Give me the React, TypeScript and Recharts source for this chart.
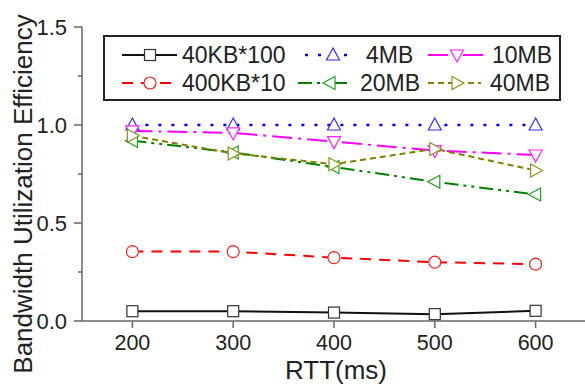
import { LineChart, Line, XAxis, YAxis, Legend } from 'recharts';

const FONT = '"Liberation Sans", Arial, sans-serif';
const AXIS = '#666666';

// RTT in ms
const rtt = [200, 300, 400, 500, 600];

// bandwidth utilization efficiency per flow setup
const kb40x100 = [0.05, 0.05, 0.043, 0.035, 0.052];
const kb400x10 = [0.354, 0.354, 0.323, 0.3, 0.29];
const mb4 = [1.0, 1.0, 1.0, 1.0, 1.0];
const mb10 = [0.97, 0.96, 0.915, 0.87, 0.847];
const mb20 = [0.92, 0.86, 0.786, 0.71, 0.645];
const mb40 = [0.945, 0.855, 0.8, 0.878, 0.768];

const xTicks = [200, 300, 400, 500, 600];
const yTicks = [0, 0.25, 0.5, 0.75, 1, 1.25, 1.5];

type Marker = 'square' | 'circle' | 'up' | 'down' | 'left' | 'right';

interface Series {
  key: string;
  name: string;
  values: number[];
  color: string;
  markColor: string;
  dash?: string;
  width: number;
  marker: Marker;
}

const series: Series[] = [
  { key: 'kb40x100', name: '40KB*100', values: kb40x100, color: '#111111', markColor: '#333333', width: 2, marker: 'square' },
  { key: 'kb400x10', name: '400KB*10', values: kb400x10, color: '#ff0000', markColor: '#ff2020', dash: '11 8', width: 2, marker: 'circle' },
  { key: 'mb4', name: '4MB', values: mb4, color: '#0000ff', markColor: '#3030ff', dash: '3 10', width: 2.5, marker: 'up' },
  { key: 'mb10', name: '10MB', values: mb10, color: '#ff00ff', markColor: '#ff20ff', dash: '20 6 3 6', width: 2, marker: 'down' },
  { key: 'mb20', name: '20MB', values: mb20, color: '#008000', markColor: '#20a020', dash: '14 5 3 5 3 5', width: 2, marker: 'left' },
  { key: 'mb40', name: '40MB', values: mb40, color: '#808000', markColor: '#909020', dash: '6 4', width: 2, marker: 'right' }
];

const data = rtt.map((r, i) => {
  const row: Record<string, number> = { rtt: r };
  series.forEach((s) => {
    row[s.key] = s.values[i];
  });
  return row;
});

function MarkerShape({ kind, cx, cy, color }: { kind: Marker; cx: number; cy: number; color: string }) {
  const common = { fill: '#ffffff', stroke: color, strokeWidth: 1.2 };
  switch (kind) {
    case 'square':
      return <rect x={cx - 5.5} y={cy - 5.5} width={11} height={11} {...common} />;
    case 'circle':
      return <circle cx={cx} cy={cy} r={6} {...common} />;
    case 'up':
      return <polygon points={`${cx},${cy - 7} ${cx - 6.5},${cy + 5} ${cx + 6.5},${cy + 5}`} {...common} />;
    case 'down':
      return <polygon points={`${cx},${cy + 7} ${cx - 6.5},${cy - 5} ${cx + 6.5},${cy - 5}`} {...common} />;
    case 'left':
      return <polygon points={`${cx - 7},${cy} ${cx + 5},${cy - 6.5} ${cx + 5},${cy + 6.5}`} {...common} />;
    default:
      return <polygon points={`${cx + 7},${cy} ${cx - 5},${cy - 6.5} ${cx - 5},${cy + 6.5}`} {...common} />;
  }
}

// legend slots, relative to the legend box, in series order
const legendSlots = [
  { x1: 19, x2: 74, mx: 47, tx: 79, y: 20 },
  { x1: 19, x2: 74, mx: 47, tx: 79, y: 48 },
  { x1: 202, x2: 250, mx: 230, tx: 263, y: 20 },
  { x1: 325, x2: 382, mx: 354, tx: 389, y: 20 },
  { x1: 195, x2: 245, mx: 227, tx: 257, y: 48 },
  { x1: 325, x2: 378, mx: 354, tx: 387, y: 48 }
];

function LegendBox() {
  return (
    <svg width={458} height={66}>
      <rect x={1} y={1} width={456} height={64} fill="#ffffff" stroke="#222" strokeWidth={2} />
      {series.map((s, i) => {
        const p = legendSlots[i];
        return (
          <g key={s.key}>
            <line x1={p.x1} x2={p.x2} y1={p.y} y2={p.y} stroke={s.color} strokeWidth={s.width} strokeDasharray={s.dash} />
            <MarkerShape kind={s.marker} cx={p.mx} cy={p.y} color={s.markColor} />
            <text x={p.tx} y={p.y + 8} fontSize={23} fontFamily={FONT} fill="#222">
              {s.name}
            </text>
          </g>
        );
      })}
    </svg>
  );
}

function XTick(props: any) {
  const { x, y, payload } = props;
  return (
    <text x={x} y={y + 22} textAnchor="middle" fontSize={21.5} fontFamily={FONT} fill="#222">
      {payload.value}
    </text>
  );
}

function LeftTick(props: any) {
  const { x, y, payload } = props;
  const major = Math.abs(payload.value * 2 - Math.round(payload.value * 2)) < 1e-6;
  return (
    <g>
      <line x1={x - (major ? 8 : 4)} x2={x} y1={y} y2={y} stroke={AXIS} strokeWidth={1.5} />
      {major && (
        <text x={x - 15} y={y + 8} textAnchor="end" fontSize={22} fontFamily={FONT} fill="#222">
          {Number(payload.value).toFixed(1)}
        </text>
      )}
    </g>
  );
}

function RightTick(props: any) {
  const { x, y, payload } = props;
  const major = Math.abs(payload.value * 2 - Math.round(payload.value * 2)) < 1e-6;
  return <line x1={x - (major ? 7 : 4)} x2={x} y1={y} y2={y} stroke={AXIS} strokeWidth={1.5} />;
}

export default function App() {
  return (
    <div style={{ position: 'absolute', left: 0, top: 0, width: 585, height: 385, overflow: 'hidden', background: '#fff' }}>
      <LineChart width={600} height={385} data={data} margin={{ top: 27, right: 14, bottom: 0, left: 0 }}>
        <XAxis
          dataKey="rtt"
          type="number"
          domain={[150, 650]}
          ticks={xTicks}
          interval={0}
          allowDataOverflow
          height={64}
          tickSize={7}
          tickMargin={0}
          axisLine={{ stroke: AXIS, strokeWidth: 1.5 }}
          tickLine={{ stroke: AXIS, strokeWidth: 1.5 }}
          tick={<XTick />}
          label={{
            content: () => (
              <text x={336} y={379} textAnchor="middle" fontSize={26} fontFamily={FONT} fill="#222">
                RTT(ms)
              </text>
            )
          }}
        />
        <XAxis
          xAxisId="top"
          orientation="top"
          mirror
          type="number"
          domain={[150, 650]}
          ticks={xTicks}
          interval={0}
          height={0}
          tickSize={7}
          axisLine={{ stroke: AXIS, strokeWidth: 1.5 }}
          tickLine={{ stroke: AXIS, strokeWidth: 1.5 }}
          tick={() => <g />}
        />
        <YAxis
          yAxisId="left"
          type="number"
          domain={[0, 1.5]}
          ticks={yTicks}
          interval={0}
          allowDataOverflow
          width={82}
          tickSize={0}
          tickMargin={0}
          tickLine={false}
          axisLine={{ stroke: AXIS, strokeWidth: 1.5 }}
          tick={<LeftTick />}
          label={{
            content: () => (
              <text
                x={32}
                y={194}
                transform="rotate(-90 32 194)"
                textAnchor="middle"
                fontSize={26}
                fontFamily={FONT}
                fill="#222"
              >
                Bandwidth Utilization Efficiency
              </text>
            )
          }}
        />
        <YAxis
          yAxisId="right"
          orientation="right"
          mirror
          type="number"
          domain={[0, 1.5]}
          ticks={yTicks}
          interval={0}
          width={0}
          tickSize={0}
          tickMargin={0}
          tickLine={false}
          axisLine={{ stroke: AXIS, strokeWidth: 1.5 }}
          tick={<RightTick />}
        />
        <Legend
          layout="vertical"
          align="center"
          verticalAlign="middle"
          content={() => <LegendBox />}
          wrapperStyle={{ left: 103, top: 35, width: 458, height: 66 }}
        />
        {series.map((s) => (
          <Line
            key={s.key}
            yAxisId="left"
            type="linear"
            dataKey={s.key}
            name={s.name}
            stroke={s.color}
            strokeWidth={s.width}
            strokeDasharray={s.dash}
            isAnimationActive={false}
            dot={(p: any) => <MarkerShape key={`${s.key}-${p.index}`} kind={s.marker} cx={p.cx} cy={p.cy} color={s.markColor} />}
            activeDot={false}
          />
        ))}
      </LineChart>
    </div>
  );
}
